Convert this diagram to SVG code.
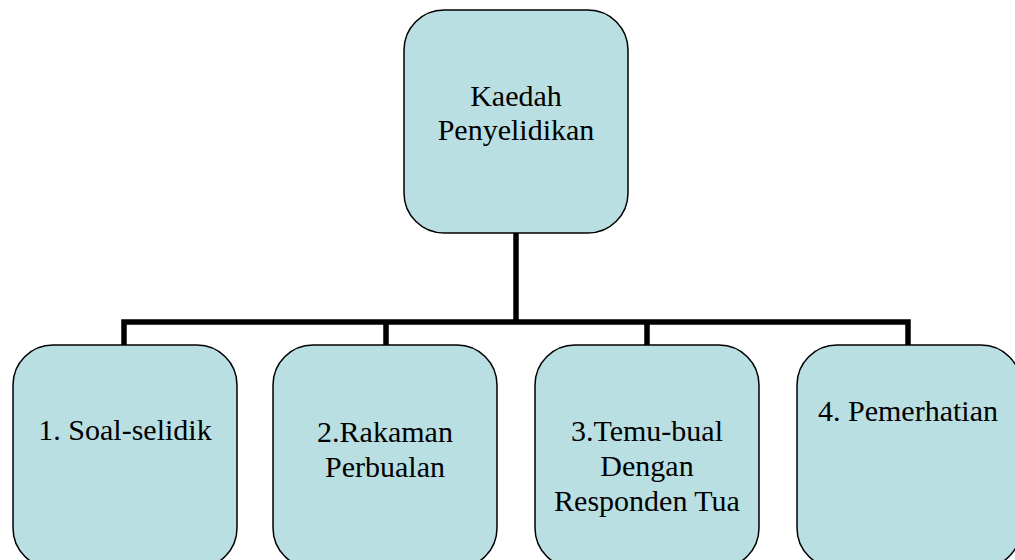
<svg xmlns="http://www.w3.org/2000/svg" width="1015" height="560" viewBox="0 0 1015 560">
<style>
.box{fill:#b9dfe3;stroke:#000;stroke-width:1.5}
.t{font-family:"Liberation Serif","Times New Roman",serif;font-size:30px;fill:#000;text-anchor:middle}
.c{fill:none;stroke:#000;stroke-width:5.5;stroke-linecap:butt;stroke-linejoin:miter}
</style>
<rect x="0" y="0" width="1015" height="560" fill="#fff"/>
<g id="connectors">
<path class="c" d="M516 233 V322"/>
<path class="c" d="M124 345 V322 H908 V345"/>
<path class="c" d="M386 322 V345"/>
<path class="c" d="M647 322 V345"/>
</g>
<g id="node-root">
<rect class="box" x="404" y="10" width="224" height="223" rx="40" ry="40"/>
<text class="t" x="516" y="106">Kaedah</text>
<text class="t" x="516" y="140">Penyelidikan</text>
</g>
<g id="node-1">
<rect class="box" x="13" y="345" width="224" height="223" rx="40" ry="40"/>
<text class="t" x="125" y="440">1. Soal-selidik</text>
</g>
<g id="node-2">
<rect class="box" x="273" y="345" width="224" height="223" rx="40" ry="40"/>
<text class="t" x="385" y="442">2.Rakaman</text>
<text class="t" x="385" y="477">Perbualan</text>
</g>
<g id="node-3">
<rect class="box" x="535" y="345" width="224" height="223" rx="40" ry="40"/>
<text class="t" x="647" y="441">3.Temu-bual</text>
<text class="t" x="647" y="476">Dengan</text>
<text class="t" x="647" y="511">Responden Tua</text>
</g>
<g id="node-4">
<rect class="box" x="797" y="345" width="224" height="223" rx="40" ry="40"/>
<text class="t" x="908" y="421">4. Pemerhatian</text>
</g>
</svg>
